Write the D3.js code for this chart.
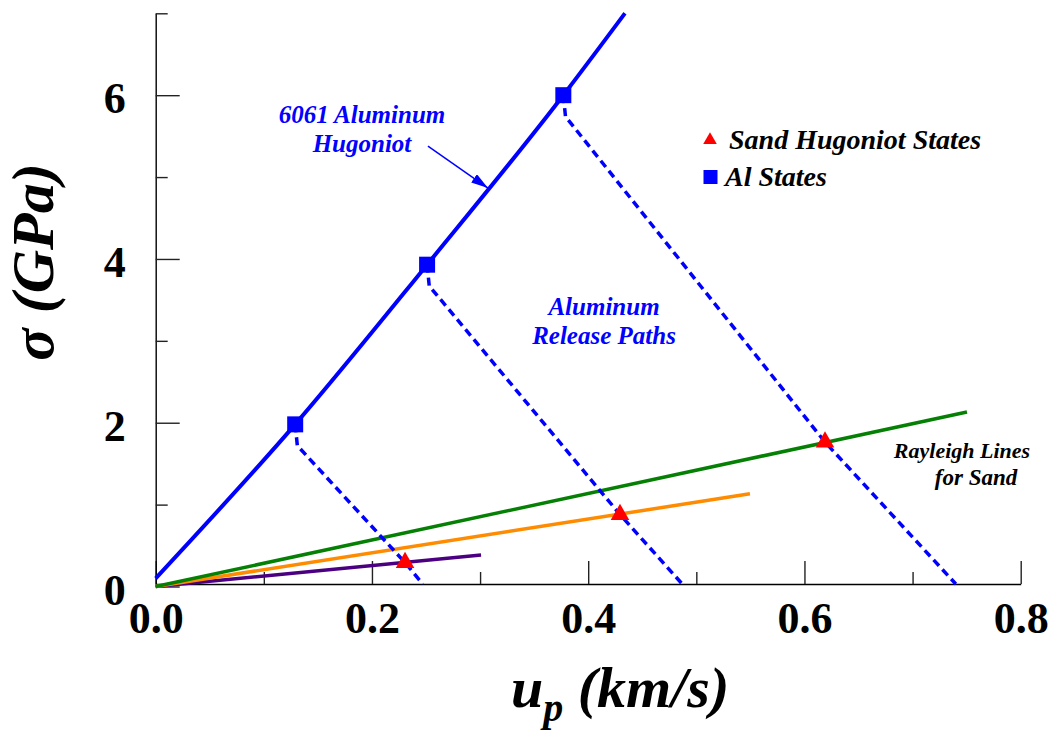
<!DOCTYPE html>
<html>
<head>
<meta charset="utf-8">
<script src="https://cdn.jsdelivr.net/npm/d3@7"></script>
<style>
  body { margin: 0; background: #fff; }
  text { font-family: "Liberation Serif", "Times New Roman", serif; font-weight: bold; }
</style>
</head>
<body>
<svg id="chart" width="1055" height="730"></svg>
<script>
// 6061 Al Hugoniot (up km/s, sigma GPa)
const hugUp = [0, 0.129, 0.251, 0.377, 0.434];
const hugSigma = [0.1, 1.98, 3.93, 6.0, 7.0];

// Al impact states
const alUp = [0.129, 0.251, 0.377];
const alSigma = [1.98, 3.93, 6.0];

// sand Hugoniot states
const sandUp = [0.2306, 0.4294, 0.619];
const sandSigma = [0.293, 0.879, 1.764];

// release paths from each Al state
const releaseUp = [
    [0.129, 0.131, 0.2306, 0.247],
    [0.251, 0.253, 0.4294, 0.487],
    [0.377, 0.379, 0.619, 0.740]
];
const releaseSigma = [
    [1.98, 1.72, 0.293, 0.03],
    [3.93, 3.67, 0.879, 0.03],
    [6.0, 5.74, 1.764, 0.03]
];

// Rayleigh lines, from origin to end point
const rayleighUp = [0.3009, 0.5496, 0.7503];
const rayleighSigma = [0.385, 1.132, 2.131];
const rayleighColors = ["#4b0082", "#ff8c00", "#058005"];

const xMajor = [0, 0.2, 0.4, 0.6, 0.8];
const xMinor = [0.1, 0.3, 0.5, 0.7];
const yMajor = [0, 2, 4, 6];
const yMinor = [1, 3, 5, 7];

const svg = d3.select("#chart");
svg.append("rect").attr("width", 1055).attr("height", 730).attr("fill", "#fff");

const x = d3.scaleLinear().domain([0, 0.8]).range([155.7, 1020.7]);
const y = d3.scaleLinear().domain([0, 7]).range([586.5, 13.3]);
const axisY = 584;

// axes
const gx = svg.append("g").attr("transform", `translate(0,${axisY})`);
gx.call(d3.axisBottom(x).tickValues(xMajor).tickSizeInner(-23).tickSizeOuter(0)
    .tickPadding(0).tickFormat(d3.format(".1f")));
gx.append("g").call(d3.axisBottom(x).tickValues(xMinor).tickSizeInner(-12).tickSizeOuter(0).tickFormat(""))
    .select(".domain").remove();
gx.selectAll(".tick text")
    .attr("y", 49).attr("dy", 0)
    .attr("font-size", 44).attr("fill", "#000")
    .style("font-family", "'Liberation Serif', serif").style("font-weight", "bold");

const gy = svg.append("g").attr("transform", `translate(${x(0)},0)`);
gy.call(d3.axisLeft(y).tickValues(yMajor).tickSizeInner(-24).tickSizeOuter(0)
    .tickPadding(30).tickFormat(d3.format("d")));
gy.append("g").call(d3.axisLeft(y).tickValues(yMinor).tickSizeInner(-12).tickSizeOuter(0).tickFormat(""))
    .select(".domain").remove();
gy.selectAll(".tick text")
    .attr("dy", "0.4em")
    .attr("font-size", 44).attr("fill", "#000")
    .style("font-family", "'Liberation Serif', serif").style("font-weight", "bold");

svg.selectAll(".domain").attr("stroke", "#000").attr("stroke-width", 1.4);
svg.selectAll(".tick line").attr("stroke", "#222").attr("stroke-width", 1.4);

// axis titles
svg.append("text")
    .attr("transform", "translate(53,262) rotate(-90)")
    .attr("text-anchor", "middle")
    .attr("font-size", 60)
    .attr("font-style", "italic")
    .text("σ (GPa)");

const xt = svg.append("text")
    .attr("x", 511).attr("y", 707)
    .attr("font-size", 58)
    .attr("font-style", "italic");
xt.append("tspan").text("u");
xt.append("tspan").attr("font-size", 40).attr("dy", 14).text("p");
xt.append("tspan").attr("dy", -14).text(" (km/s)");

const line = d3.line().x(d => x(d[0])).y(d => y(d[1]));

// Rayleigh lines
svg.selectAll(".rayleigh")
    .data(rayleighUp.map((u, i) => [[0, 0], [u, rayleighSigma[i]]]))
    .enter()
    .append("path")
    .attr("class", "rayleigh")
    .attr("d", line)
    .attr("fill", "none")
    .attr("stroke", (d, i) => rayleighColors[i])
    .attr("stroke-width", 3.5);

// release paths
svg.selectAll(".release")
    .data(releaseUp.map((us, i) => us.map((u, j) => [u, releaseSigma[i][j]])))
    .enter()
    .append("path")
    .attr("class", "release")
    .attr("d", line)
    .attr("fill", "none")
    .attr("stroke", "#0000ff")
    .attr("stroke-width", 3.5)
    .attr("stroke-dasharray", "8,5");

// Hugoniot
svg.append("path")
    .datum(hugUp.map((u, i) => [u, hugSigma[i]]))
    .attr("d", line.curve(d3.curveMonotoneX))
    .attr("fill", "none")
    .attr("stroke", "#0000ff")
    .attr("stroke-width", 4);

// markers
svg.selectAll(".al")
    .data(alUp.map((u, i) => [u, alSigma[i]]))
    .enter()
    .append("path")
    .attr("class", "al")
    .attr("transform", d => `translate(${x(d[0])},${y(d[1])})`)
    .attr("d", d3.symbol(d3.symbolSquare, 256))
    .attr("fill", "#0000ff");

svg.selectAll(".sand")
    .data(sandUp.map((u, i) => [u, sandSigma[i]]))
    .enter()
    .append("path")
    .attr("class", "sand")
    .attr("transform", d => `translate(${x(d[0])},${y(d[1])})`)
    .attr("d", d3.symbol(d3.symbolTriangle, 150))
    .attr("fill", "#ff0000");

// legend
const legend = svg.append("g");
legend.append("path")
    .attr("transform", "translate(710,140)")
    .attr("d", d3.symbol(d3.symbolTriangle, 80))
    .attr("fill", "#ff0000");
legend.append("path")
    .attr("transform", "translate(710.5,177)")
    .attr("d", d3.symbol(d3.symbolSquare, 196))
    .attr("fill", "#0000ff");
legend.append("text").attr("x", 729).attr("y", 149)
    .attr("font-size", 28).attr("font-style", "italic").text("Sand Hugoniot States");
legend.append("text").attr("x", 725).attr("y", 186)
    .attr("font-size", 28).attr("font-style", "italic").text("Al States");

// annotations
function label(lines, cx, y0, dy, size, color) {
    const t = svg.append("text")
        .attr("text-anchor", "middle")
        .attr("font-size", size)
        .attr("font-style", "italic")
        .attr("fill", color);
    lines.forEach((s, i) => {
        t.append("tspan").attr("x", cx).attr("y", y0 + i * dy).text(s);
    });
}
label(["6061 Aluminum", "Hugoniot"], 362, 123, 29, 25, "#0000ff");
label(["Aluminum", "Release Paths"], 604, 315, 29, 25, "#0000ff");
label(["Rayleigh Lines"], 962, 458, 27, 22, "#000");
label(["for Sand"], 976, 485, 27, 23, "#000");

// arrow to the Hugoniot
svg.append("defs").append("marker")
    .attr("id", "arrowhead")
    .attr("markerUnits", "userSpaceOnUse")
    .attr("markerWidth", 18).attr("markerHeight", 12)
    .attr("refX", 17).attr("refY", 5)
    .attr("orient", "auto")
    .append("path")
    .attr("d", "M0,0 L17,5 L0,10 Z")
    .attr("fill", "#0000ff");

svg.append("path")
    .datum([[0.2518, 5.379], [0.3073, 4.866]])
    .attr("d", d3.line().x(d => x(d[0])).y(d => y(d[1])))
    .attr("stroke", "#0000ff")
    .attr("stroke-width", 1.5)
    .attr("marker-end", "url(#arrowhead)");
</script>
</body>
</html>
